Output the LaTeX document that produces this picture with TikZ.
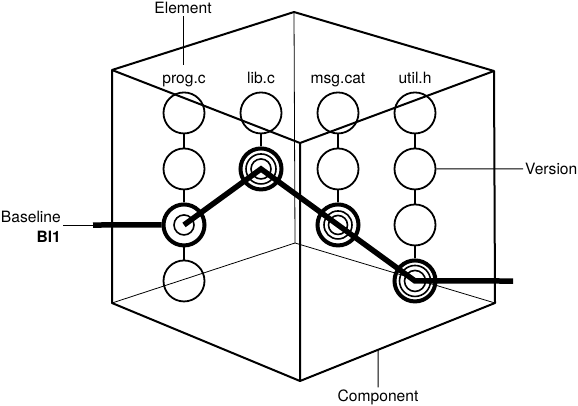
\documentclass[tikz,border=0pt]{standalone}
\usepackage{fontspec}
\setmainfont{TeX Gyre Heros}
\usetikzlibrary{matrix,calc,positioning}
\newcommand{\myvsize}{41pt}
\tikzset{
    versty/.style={draw,circle,line width=1.8pt,minimum size=\myvsize,inner sep=0pt},
    selsty/.style={draw,circle,line width=4pt,minimum size=\myvsize,inner sep=0pt},
    ringsty/.style={line width=1.6pt},
    linksty/.style={line width=1.8pt},
    edgesty/.style={line width=2pt,line join=round},
    hidsty/.style={line width=0.8pt},
    basesty/.style={line width=5.5pt,line join=miter},
    callsty/.style={line width=1pt},
    labsty/.style={font=\fontsize{15.6}{18}\selectfont,inner sep=2pt},
    colsty/.style={labsty,text height=11pt,text depth=3.5pt,inner sep=1pt},
}

\begin{document}
\begin{tikzpicture}[x=1pt,y=-1pt]
\useasboundingbox (0,0) rectangle (578,405);
\coordinate (tb) at (294,12);
\coordinate (tl) at (112,70);
\coordinate (tr) at (494,71);
\coordinate (tf) at (300,143);
\coordinate (bl) at (112,303);
\coordinate (br) at (495,303);
\coordinate (bf) at (300,381);
\coordinate (bb) at (295,243);

\draw[hidsty] (tb) -- (bb) (bl) -- (bb) -- (br);
\draw[edgesty] (tl) -- (tb) -- (tr) -- (br) -- (bf) -- (bl) -- cycle;
\draw[edgesty] (tl) -- (tf) -- (tr) (tf) -- (bf);

\matrix (A) [matrix of nodes,
  nodes = {versty},
  column sep = {77pt,between origins},
  row sep = {56pt,between origins},
  ampersand replacement=\&] at (299.5,197.5)
{
|[versty]| \& |[versty]| \& |[versty]| \& |[versty]| \\
|[versty]| \& |[selsty]| \& |[versty]| \& |[versty]| \\
|[selsty]| \&            \& |[selsty]| \& |[versty]| \\
|[versty]| \&            \&            \& |[selsty]| \\
};

\draw[linksty] (A-1-1) -- (A-2-1) (A-2-1) -- (A-3-1) (A-3-1) -- (A-4-1);
\draw[linksty] (A-1-2) -- (A-2-2);
\draw[linksty] (A-1-3) -- (A-2-3) (A-2-3) -- (A-3-3);
\draw[linksty] (A-1-4) -- (A-2-4) (A-2-4) -- (A-3-4) (A-3-4) -- (A-4-4);

\draw[ringsty] (A-3-1.center) circle (10pt);
\draw[ringsty] (A-2-2.center) circle (15pt) (A-2-2.center) circle (10pt);
\draw[ringsty] (A-3-3.center) circle (14pt) (A-3-3.center) circle (9.5pt);
\draw[ringsty] (A-4-4.center) circle (15.5pt) (A-4-4.center) circle (10.5pt);

\node[colsty, above=3.5pt of A-1-1] (progl) {prog.c};
\node[colsty, above=3.5pt of A-1-2] (libl) {lib.c};
\node[colsty, above=3.5pt of A-1-3] (msgl) {msg.cat};
\node[colsty, above=3.5pt of A-1-4] (utill) {util.h};

\node[labsty] (elab) at (183,8) {Element};
\coordinate (etip) at (183,65);
\draw[callsty] (elab) -- (etip);

\node[labsty, anchor=west] (vlab) at (523,169) {Version};
\draw[callsty] (A-2-4) -- (vlab);

\node[labsty] (clab) at (378,397) {Component};
\coordinate (cpt) at ($(bf)!0.4!(br)$);
\draw[callsty] (cpt) -- (clab);

\node[labsty, anchor=east] (baselab) at (63,217) {Baseline};
\node[labsty, below=4pt of baselab.south east, anchor=north east] (bllab) {\textbf{Bl1}};
\coordinate (bls) at (93,225);
\coordinate (ble) at (513,281);
\draw[callsty] (baselab.east |- bls) -- (bls);

\draw[basesty] (bls) -- (A-3-1.west);
\draw[basesty] (A-3-1.center) -- (A-2-2.center) -- (A-3-3.center) -- (A-4-4.center) -- (ble);
\end{tikzpicture}
\end{document}
